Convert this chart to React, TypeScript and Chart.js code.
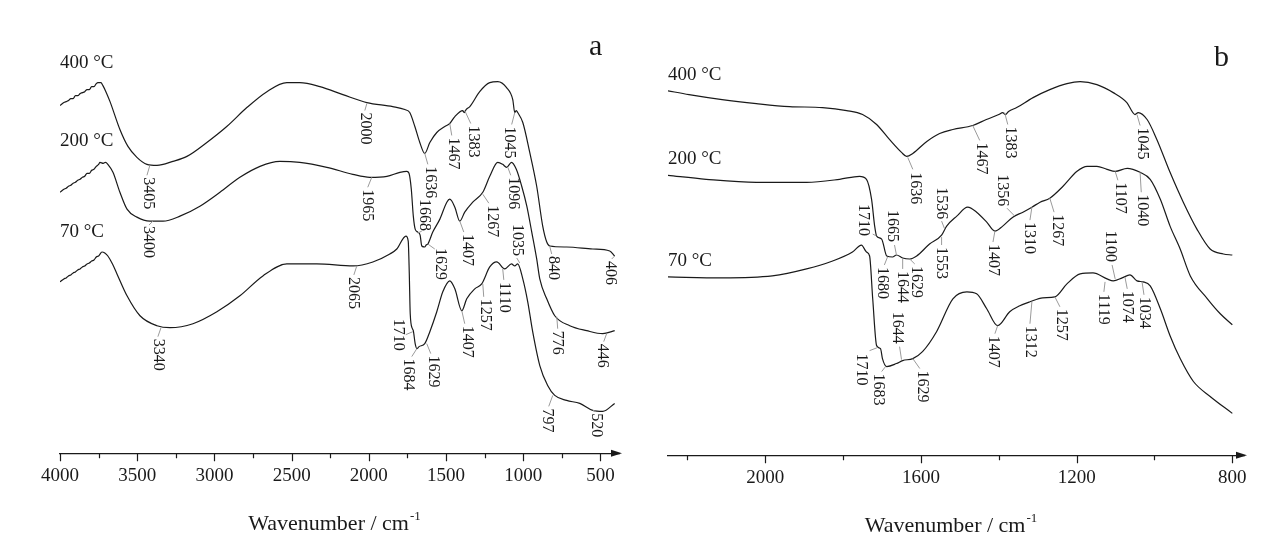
import React, { useEffect, useRef } from 'react';
import { Chart, registerables } from 'chart.js';

Chart.register(...registerables);

type Pt = [number, number];
// [label, curveW, curveV, leaderEndW, leaderEndV, textW, textV, textAbove]
type Peak = [string, number, number, number, number, number, number, number];

// ---------- Panel a : 4000 - 400 cm-1 (transmittance, a.u., offset) ----------
const A_400: Pt[] = [
  [4000, 34.9], [3975, 35.2], [3960, 35.3], [3945, 35.4], [3930, 35.6], [3915, 35.6], [3900, 35.9], [3885, 35.9],
  [3870, 36.1], [3855, 36.2], [3840, 36.3], [3825, 36.5], [3810, 36.5], [3795, 36.8], [3780, 36.8], [3765, 37.1],
  [3754, 37.2], [3735, 37.2], [3722, 36.9], [3700, 36.2], [3676, 35.3], [3612, 32.5], [3560, 30.8],
  [3502, 29.7], [3437, 29.0], [3372, 28.9], [3269, 29.3], [3178, 29.8], [3049, 31.2], [2920, 32.8], [2790, 34.7],
  [2660, 36.3], [2531, 37.2], [2447, 37.2], [2317, 36.8], [2168, 36.0], [2013, 35.2], [1845, 34.8], [1767, 34.5],
  [1735, 34.2], [1702, 32.8], [1670, 31.2], [1638, 30.1], [1605, 31.2], [1560, 32.2], [1508, 32.8], [1476, 33.1],
  [1443, 33.8], [1392, 34.4], [1383, 34.2], [1370, 34.5], [1346, 34.8], [1282, 36.3], [1217, 37.2], [1165, 37.3],
  [1108, 36.7], [1068, 35.5], [1055, 34.2], [1045, 34.4], [1036, 34.2], [1003, 33.2], [958, 30.2], [913, 26.8],
  [874, 22.8], [848, 21.2], [828, 20.8], [719, 20.7], [550, 20.5], [440, 20.3], [408, 19.8],
];
const A_200: Pt[] = [
  [4000, 26.2], [3975, 26.5], [3960, 26.6], [3945, 26.8], [3930, 26.9], [3915, 27.1], [3900, 27.2], [3885, 27.4],
  [3870, 27.5], [3855, 27.7], [3840, 27.8], [3825, 28.1], [3810, 28.1], [3795, 28.4], [3780, 28.5], [3765, 28.8],
  [3750, 29.0], [3741, 29.2], [3720, 29.1], [3705, 29.2], [3690, 29.0], [3657, 28.2], [3612, 26.2],
  [3566, 24.5], [3502, 23.7], [3417, 23.3], [3333, 23.3], [3223, 23.8], [3094, 24.8], [2964, 26.2], [2835, 27.7],
  [2705, 28.8], [2576, 29.3], [2447, 29.2], [2272, 28.7], [2104, 28.0], [1994, 27.7], [1883, 27.8], [1799, 28.2],
  [1754, 28.3], [1740, 28.1], [1725, 26.5], [1712, 23.8], [1700, 22.5], [1683, 22.2], [1668, 21.9], [1657, 20.8],
  [1638, 20.7], [1629, 20.9], [1618, 21.0], [1586, 22.2], [1540, 23.5], [1495, 25.2], [1476, 25.5], [1443, 24.7],
  [1411, 23.3], [1379, 24.2], [1327, 25.2], [1262, 26.2], [1217, 27.8], [1165, 29.2], [1133, 29.0], [1108, 28.7],
  [1076, 29.2], [1045, 28.5], [1010, 26.8], [977, 24.8], [945, 22.2], [913, 19.5], [893, 17.5], [848, 15.5],
  [796, 13.8], [699, 12.8], [589, 12.3], [485, 12.0], [408, 12.3],
];
const A_70: Pt[] = [
  [4000, 17.2], [3975, 17.5], [3960, 17.6], [3945, 17.8], [3930, 17.9], [3915, 18.1], [3900, 18.2], [3885, 18.4],
  [3870, 18.5], [3855, 18.7], [3840, 18.8], [3825, 19.0], [3810, 19.1], [3795, 19.3], [3780, 19.4], [3765, 19.7],
  [3750, 19.8], [3728, 20.2], [3710, 20.1], [3690, 19.8], [3660, 19.0], [3631, 18.0], [3566, 15.8], [3482, 13.8], [3372, 12.8],
  [3288, 12.6], [3139, 13.0], [2984, 14.2], [2835, 15.8], [2686, 17.8], [2531, 19.0], [2337, 19.0], [2101, 18.8],
  [1974, 19.2], [1864, 20.0], [1819, 20.5], [1760, 21.8], [1745, 21.3], [1738, 18.0], [1732, 14.0], [1718, 12.5],
  [1712, 12.3], [1700, 11.0], [1689, 10.5], [1675, 10.7], [1638, 11.0], [1605, 12.2], [1560, 14.2], [1521, 16.2],
  [1476, 17.3], [1443, 16.5], [1398, 14.3], [1366, 15.5], [1314, 16.5], [1269, 17.0], [1217, 18.7], [1172, 19.2],
  [1120, 18.5], [1076, 19.0], [1055, 18.8], [1036, 19.0], [1003, 17.5], [971, 15.2], [939, 12.2], [893, 8.8],
  [842, 6.8], [796, 5.8], [719, 5.3], [634, 5.0], [550, 4.3], [485, 4.2], [408, 5.0],
];

// ---------- Panel b : 2250 - 800 cm-1 ----------
const B_400: Pt[] = [
  [2252, 36.6], [2196, 36.2], [2111, 35.7], [2023, 35.3], [1938, 35.0], [1853, 34.9], [1791, 34.6], [1750, 34.2],
  [1714, 33.2], [1681, 31.7], [1650, 30.4], [1637, 30.0], [1621, 30.3], [1585, 31.5], [1552, 32.3], [1518, 32.7],
  [1467, 33.1], [1432, 33.7], [1400, 34.2], [1390, 34.4], [1383, 34.2], [1375, 34.5], [1354, 34.9], [1312, 35.9],
  [1269, 36.7], [1225, 37.3], [1191, 37.5], [1148, 37.2], [1106, 36.4], [1071, 35.4], [1050, 34.2], [1042, 34.4],
  [1019, 33.7], [994, 31.7], [960, 28.4], [926, 25.4], [891, 22.7], [857, 20.7], [823, 20.2], [800, 20.1],
];
const B_200: Pt[] = [
  [2252, 28.1], [2152, 27.7], [2023, 27.4], [1894, 27.4], [1809, 27.7], [1758, 28.0], [1740, 27.7], [1727, 25.7],
  [1719, 23.0], [1714, 22.0], [1701, 21.7], [1688, 20.0], [1673, 19.9], [1663, 20.1], [1647, 19.8], [1629, 19.7],
  [1611, 20.0], [1578, 21.2], [1547, 22.1], [1534, 23.0], [1508, 24.0], [1480, 24.9], [1457, 24.4], [1431, 23.4],
  [1410, 22.5], [1390, 23.0], [1364, 23.9], [1338, 24.4], [1315, 24.9], [1294, 25.4], [1269, 25.8], [1235, 27.0],
  [1199, 28.5], [1173, 29.0], [1148, 29.0], [1122, 28.7], [1101, 28.5], [1070, 28.8], [1037, 28.4], [1011, 27.7],
  [985, 25.7], [960, 23.0], [934, 20.7], [908, 18.0], [864, 15.7], [831, 14.2], [800, 13.1],
];
const B_70: Pt[] = [
  [2252, 17.9], [2111, 17.8], [1982, 18.0], [1894, 18.7], [1827, 19.5], [1776, 20.4], [1753, 21.1], [1740, 20.4],
  [1732, 20.0], [1724, 15.7], [1714, 11.0], [1704, 10.7], [1699, 9.7], [1688, 8.9], [1663, 9.2], [1647, 9.5],
  [1621, 9.7], [1596, 10.4], [1560, 12.4], [1518, 15.7], [1482, 16.4], [1457, 16.2], [1431, 14.7], [1403, 13.0],
  [1372, 14.4], [1346, 15.0], [1320, 15.4], [1287, 15.8], [1256, 15.9], [1225, 17.2], [1191, 18.2], [1158, 18.3],
  [1122, 17.7], [1106, 17.5], [1083, 17.8], [1063, 18.1], [1045, 17.5], [1029, 17.4], [1011, 17.0], [985, 14.7],
  [960, 12.0], [934, 9.7], [900, 7.4], [857, 5.9], [800, 4.2],
];

const SERIES_NAMES = ['400 °C', '200 °C', '70 °C'];
const A_MAJOR = [4000, 3500, 3000, 2500, 2000, 1500, 1000, 500];
const A_MINOR = [3750, 3250, 2750, 2250, 1750, 1250, 750];
const B_MAJOR = [2000, 1600, 1200, 800];
const B_MINOR = [2200, 1800, 1400, 1000];
const X_TITLE = 'Wavenumber / cm';
const X_TITLE_SUP = '-1';

const A_PEAKS: Peak[] = [
  ['3405', 3418, 28.9, 3437, 27.9, 3430, 27.7, 0],
  ['3400', 3398, 23.3, 3424, 22.9, 3430, 22.8, 0],
  ['2000', 2013, 35.1, 2026, 34.4, 2026, 34.2, 0],
  ['1965', 1981, 27.7, 2007, 26.7, 2013, 26.5, 0],
  ['3340', 3346, 12.6, 3366, 11.7, 3366, 11.5, 0],
  ['2065', 2078, 18.8, 2097, 17.9, 2104, 17.7, 0],
  ['1710', 1715, 12.2, 1761, 11.9, 1812, 13.5, 0],
  ['1684', 1689, 10.5, 1722, 9.7, 1748, 9.5, 0],
  ['1636', 1638, 30.1, 1618, 29.0, 1605, 28.8, 0],
  ['1467', 1476, 33.1, 1463, 31.9, 1456, 31.7, 0],
  ['1383', 1379, 34.4, 1340, 33.1, 1321, 32.9, 0],
  ['1045', 1055, 34.2, 1075, 33.0, 1088, 32.8, 0],
  ['1096', 1100, 28.7, 1081, 27.9, 1068, 27.7, 0],
  ['1668', 1683, 22.1, 1657, 22.3, 1644, 22.3, 1],
  ['1629', 1618, 21.0, 1573, 20.5, 1541, 20.6, 0],
  ['1407', 1411, 23.3, 1385, 22.2, 1366, 22.0, 0],
  ['1267', 1262, 26.0, 1223, 25.1, 1204, 24.9, 0],
  ['1035', 1023, 19.1, 1042, 19.6, 1036, 19.8, 1],
  ['840', 829, 20.8, 816, 20.0, 809, 19.8, 0],
  ['406', 408, 19.8, 427, 19.5, 434, 19.3, 0],
  ['1629', 1625, 11.0, 1599, 10.0, 1586, 9.8, 0],
  ['1407', 1398, 14.3, 1379, 13.0, 1366, 12.8, 0],
  ['1257', 1262, 17.0, 1256, 15.7, 1249, 15.5, 0],
  ['1110', 1133, 18.5, 1126, 17.4, 1126, 17.2, 0],
  ['776', 783, 13.7, 777, 12.5, 777, 12.3, 0],
  ['446', 460, 12.0, 479, 11.2, 486, 11.0, 0],
  ['797', 809, 5.8, 835, 4.7, 842, 4.5, 0],
  ['520', 550, 4.3, 531, 4.2, 525, 4.0, 0],
];

const B_PEAKS: Peak[] = [
  ['1636', 1634, 29.9, 1621, 28.7, 1616, 28.4, 0],
  ['1536', 1539, 22.7, 1547, 23.5, 1547, 23.7, 1],
  ['1710', 1714, 22.0, 1724, 22.2, 1748, 22.0, 1],
  ['1665', 1663, 20.1, 1668, 21.1, 1673, 21.4, 1],
  ['1553', 1547, 21.9, 1547, 21.1, 1547, 20.9, 0],
  ['1680', 1686, 19.9, 1694, 19.1, 1699, 18.9, 0],
  ['1644', 1647, 19.7, 1647, 18.7, 1647, 18.5, 0],
  ['1629', 1629, 19.7, 1616, 19.2, 1611, 19.0, 0],
  ['1644', 1650, 9.6, 1655, 10.9, 1660, 11.2, 1],
  ['1710', 1712, 10.8, 1732, 10.5, 1753, 10.2, 0],
  ['1683', 1691, 8.9, 1701, 8.4, 1709, 8.2, 0],
  ['1629', 1621, 9.7, 1603, 8.7, 1596, 8.5, 0],
  ['1467', 1467, 33.1, 1449, 31.6, 1444, 31.4, 0],
  ['1383', 1385, 34.4, 1377, 33.2, 1372, 33.0, 0],
  ['1045', 1045, 34.2, 1037, 33.1, 1032, 32.9, 0],
  ['1356', 1359, 24.0, 1379, 24.8, 1390, 25.0, 1],
  ['1310', 1315, 24.9, 1320, 23.6, 1323, 23.4, 0],
  ['1267', 1269, 25.8, 1258, 24.4, 1251, 24.2, 0],
  ['1107', 1101, 28.5, 1094, 27.6, 1088, 27.4, 0],
  ['1040', 1037, 28.4, 1034, 26.4, 1032, 26.2, 0],
  ['1407', 1410, 22.5, 1415, 21.4, 1415, 21.2, 0],
  ['1100', 1101, 17.7, 1109, 19.1, 1114, 19.4, 1],
  ['1119', 1127, 17.4, 1130, 16.4, 1132, 16.2, 0],
  ['1074', 1076, 17.9, 1070, 16.7, 1070, 16.5, 0],
  ['1034', 1032, 17.4, 1027, 16.1, 1027, 15.9, 0],
  ['1407', 1403, 13.0, 1410, 12.2, 1415, 12.0, 0],
  ['1312', 1315, 15.4, 1320, 13.2, 1320, 13.0, 0],
  ['1257', 1256, 15.9, 1243, 14.9, 1240, 14.7, 0],
];

// series-name anchors (wavenumber, value) and panel letters
const A_NAME_POS: Pt[] = [[4000, 39.2], [4000, 31.3], [4000, 22.2]];
const B_NAME_POS: Pt[] = [[2250, 38.2], [2250, 29.7], [2250, 19.5]];

const SERIF = '"Liberation Serif", "Times New Roman", serif';
const INK = '#1a1a1a';
const LEADER = '#9a9a9a';

interface PanelSpec {
  letter: string;
  letterPos: Pt;
  series: Pt[][];
  namePos: Pt[];
  peaks: Peak[];
  major: number[];
  minor: number[];
  xMin: number;
  xMax: number;
  yMax: number;
  pad: { left: number; right: number; top: number; bottom: number };
  width: number;
}

function overlay(p: PanelSpec) {
  return {
    id: 'overlay_' + p.letter,
    afterDraw(chart: any) {
      const { ctx, chartArea } = chart;
      const xs = chart.scales.x;
      const ys = chart.scales.y;
      const X = (v: number) => xs.getPixelForValue(v);
      const Y = (v: number) => ys.getPixelForValue(v);
      const bottom = chartArea.bottom;
      ctx.save();
      // tick marks
      ctx.strokeStyle = INK;
      ctx.lineWidth = 1.2;
      ctx.beginPath();
      p.major.forEach((t) => {
        const x = Math.round(X(t)) + 0.5;
        ctx.moveTo(x, bottom);
        ctx.lineTo(x, bottom + 8);
      });
      p.minor.forEach((t) => {
        const x = Math.round(X(t)) + 0.5;
        ctx.moveTo(x, bottom);
        ctx.lineTo(x, bottom + 5);
      });
      ctx.stroke();
      // arrow head
      ctx.fillStyle = INK;
      ctx.beginPath();
      ctx.moveTo(chartArea.right + 3, bottom);
      ctx.lineTo(chartArea.right - 8, bottom - 3.5);
      ctx.lineTo(chartArea.right - 8, bottom + 3.5);
      ctx.closePath();
      ctx.fill();
      // axis title with superscript
      ctx.font = `22px ${SERIF}`;
      const w1 = ctx.measureText(X_TITLE).width;
      ctx.font = `13px ${SERIF}`;
      const w2 = ctx.measureText(X_TITLE_SUP).width;
      const cx = (chartArea.left + chartArea.right) / 2 - 5;
      const x0 = cx - (w1 + w2 + 1) / 2;
      const base = bottom + 77;
      ctx.textAlign = 'left';
      ctx.textBaseline = 'alphabetic';
      ctx.font = `22px ${SERIF}`;
      ctx.fillText(X_TITLE, x0, base);
      ctx.font = `13px ${SERIF}`;
      ctx.fillText(X_TITLE_SUP, x0 + w1 + 1, base - 10);
      // leader lines
      ctx.strokeStyle = LEADER;
      ctx.lineWidth = 1;
      ctx.beginPath();
      p.peaks.forEach((pk) => {
        ctx.moveTo(X(pk[1]), Y(pk[2]));
        ctx.lineTo(X(pk[3]), Y(pk[4]));
      });
      ctx.stroke();
      // peak labels (rotated)
      ctx.fillStyle = INK;
      ctx.font = `16px ${SERIF}`;
      ctx.textBaseline = 'middle';
      p.peaks.forEach((pk) => {
        ctx.save();
        ctx.translate(X(pk[5]), Y(pk[6]));
        ctx.rotate(Math.PI / 2);
        ctx.textAlign = pk[7] ? 'right' : 'left';
        ctx.fillText(pk[0], 0, 0);
        ctx.restore();
      });
      // series names
      ctx.font = `19px ${SERIF}`;
      ctx.textAlign = 'left';
      ctx.textBaseline = 'middle';
      p.namePos.forEach((pos, i) => {
        ctx.fillText(SERIES_NAMES[i], X(pos[0]), Y(pos[1]));
      });
      // panel letter
      ctx.font = `30px ${SERIF}`;
      ctx.textAlign = 'center';
      ctx.fillText(p.letter, X(p.letterPos[0]), Y(p.letterPos[1]));
      ctx.restore();
    },
  };
}

function buildConfig(p: PanelSpec): any {
  const all = [...p.major, ...p.minor].sort((a, b) => b - a);
  return {
    type: 'line',
    data: {
      datasets: p.series.map((s, i) => ({
        label: SERIES_NAMES[i],
        data: s.map(([x, y]) => ({ x, y })),
        borderColor: INK,
        borderWidth: 1.2,
        pointRadius: 0,
        fill: false,
        cubicInterpolationMode: 'monotone',
      })),
    },
    options: {
      responsive: false,
      animation: false,
      devicePixelRatio: 1,
      layout: { padding: p.pad },
      plugins: { legend: { display: false }, tooltip: { enabled: false } },
      scales: {
        x: {
          type: 'linear',
          reverse: true,
          min: p.xMin,
          max: p.xMax,
          afterBuildTicks: (scale: any) => {
            scale.ticks = all.map((v) => ({ value: v }));
          },
          ticks: {
            autoSkip: false,
            maxRotation: 0,
            padding: 3,
            color: INK,
            font: { family: SERIF, size: 19 },
            callback: (v: number) => (p.major.includes(v) ? String(v) : ''),
          },
          grid: { display: false, drawTicks: true, tickLength: 8 },
          border: { display: true, color: INK, width: 1.3 },
        },
        y: { display: false, min: 0, max: p.yMax },
      },
    },
    plugins: [overlay(p)],
  };
}

const PANEL_A: PanelSpec = {
  letter: 'a',
  letterPos: [531, 40.8],
  series: [A_400, A_200, A_70],
  namePos: A_NAME_POS,
  peaks: A_PEAKS,
  major: A_MAJOR,
  minor: A_MINOR,
  xMin: 380,
  xMax: 4000,
  yMax: 45.5,
  pad: { left: 60, right: 21, top: 0, bottom: 64 },
  width: 640,
};

const PANEL_B: PanelSpec = {
  letter: 'b',
  letterPos: [828, 39.9],
  series: [B_400, B_200, B_70],
  namePos: B_NAME_POS,
  peaks: B_PEAKS,
  major: B_MAJOR,
  minor: B_MINOR,
  xMin: 770,
  xMax: 2250,
  yMax: 45.7,
  pad: { left: 28, right: 18, top: 0, bottom: 62 },
  width: 622,
};

function Panel({ spec, left }: { spec: PanelSpec; left: number }) {
  const ref = useRef<HTMLCanvasElement>(null);
  useEffect(() => {
    if (!ref.current) return;
    const chart = new Chart(ref.current, buildConfig(spec));
    return () => chart.destroy();
  }, [spec]);
  return (
    <canvas
      ref={ref}
      width={spec.width}
      height={554}
      style={{ position: 'absolute', left, top: 0, width: spec.width, height: 554 }}
    />
  );
}

export default function App() {
  return (
    <div style={{ position: 'absolute', left: 0, top: 0, width: 1262, height: 554, background: '#ffffff', overflow: 'hidden' }}>
      <Panel spec={PANEL_A} left={0} />
      <Panel spec={PANEL_B} left={640} />
    </div>
  );
}
